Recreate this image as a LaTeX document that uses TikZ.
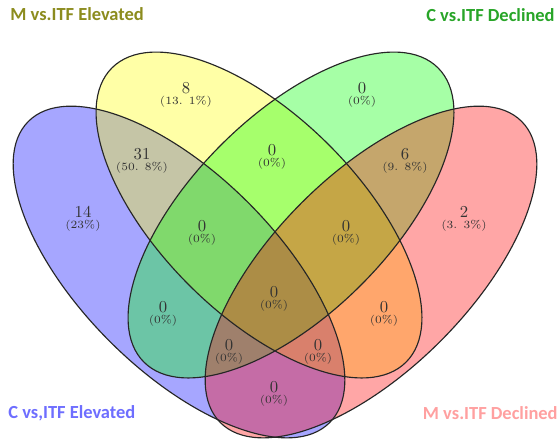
\documentclass[tikz,border=0pt]{standalone}
\usepackage{fontspec}
\newfontfamily\titlefont{Carlito}
\definecolor{setblue}{RGB}{0,0,255}
\definecolor{setyellow}{RGB}{255,255,0}
\definecolor{setgreen}{RGB}{0,255,0}
\definecolor{setred}{RGB}{255,0,0}
\definecolor{tolive}{RGB}{140,140,30}
\definecolor{tgreen}{RGB}{40,165,40}
\definecolor{tblue}{RGB}{110,110,255}
\definecolor{tpink}{RGB}{255,160,160}
\begin{document}
\begin{tikzpicture}[x=0.02cm,y=-0.02cm,
  setfill/.style={fill opacity=0.35},
  outline/.style={draw=black!85,line width=0.65pt},
  num/.style={font=\fontsize{9.5pt}{10pt}\selectfont, text=black!80, inner sep=0pt},
  pct/.style={font=\fontsize{6.3pt}{7pt}\selectfont, text=black!80, inner sep=0pt},
  title/.style={font=\titlefont\bfseries\fontsize{10.5pt}{12pt}\selectfont, inner sep=0pt}]
\fill[white] (0,0) rectangle (560,441);
\useasboundingbox (0,0) rectangle (560,441);
% fills
\fill[setblue, setfill, rotate around={-45:(179,272)}] (179,272) ellipse [x radius=213, y radius=98];
\fill[setyellow, setfill, rotate around={-45:(259,215)}] (259,215) ellipse [x radius=208, y radius=99];
\fill[setgreen, setfill, rotate around={45:(291,215)}] (291,215) ellipse [x radius=208, y radius=99];
\fill[setred, setfill, rotate around={45:(371,272)}] (371,272) ellipse [x radius=213, y radius=98];
% outlines
\draw[outline, rotate around={-45:(179,272)}] (179,272) ellipse [x radius=213, y radius=98];
\draw[outline, rotate around={-45:(259,215)}] (259,215) ellipse [x radius=208, y radius=99];
\draw[outline, rotate around={45:(291,215)}] (291,215) ellipse [x radius=208, y radius=99];
\draw[outline, rotate around={45:(371,272)}] (371,272) ellipse [x radius=213, y radius=98];
% titles
\node[title, text=tolive, anchor=west] (tM1) at (10,14) {M vs.ITF Elevated};
\node[title, text=tgreen, anchor=east] (tC2) at (555,15) {C vs.ITF Declined};
\node[title, text=tblue, anchor=west] (tC1) at (8,413) {C vs,ITF Elevated};
\node[title, text=tpink, anchor=east] (tM2) at (558,413) {M vs.ITF Declined};
% counts
\node[num] (n1) at (186,88) {8};       \node[pct] (p1) at (186,102) {(13. 1\%)};
\node[num] (n2) at (362,88) {0};       \node[pct] (p2) at (362,102) {(0\%)};
\node[num] (n3) at (142,154) {31};     \node[pct] (p3) at (142,168) {(50. 8\%)};
\node[num] (n4) at (272,150) {0};      \node[pct] (p4) at (272,164) {(0\%)};
\node[num] (n5) at (405,154) {6};      \node[pct] (p5) at (405,168) {(9. 8\%)};
\node[num] (n6) at (83,212) {14};      \node[pct] (p6) at (83,226) {(23\%)};
\node[num] (n7) at (464,212) {2};      \node[pct] (p7) at (464,226) {(3. 3\%)};
\node[num] (n8) at (202,226) {0};      \node[pct] (p8) at (202,240) {(0\%)};
\node[num] (n9) at (346,226) {0};      \node[pct] (p9) at (346,240) {(0\%)};
\node[num] (n10) at (274,292) {0};     \node[pct] (p10) at (274,306) {(0\%)};
\node[num] (n11) at (163,307) {0};     \node[pct] (p11) at (163,321) {(0\%)};
\node[num] (n12) at (384,307) {0};     \node[pct] (p12) at (384,321) {(0\%)};
\node[num] (n13) at (229,345) {0};     \node[pct] (p13) at (229,359) {(0\%)};
\node[num] (n14) at (318,345) {0};     \node[pct] (p14) at (318,359) {(0\%)};
\node[num] (n15) at (274,387) {0};     \node[pct] (p15) at (274,401) {(0\%)};
\end{tikzpicture}
\end{document}
